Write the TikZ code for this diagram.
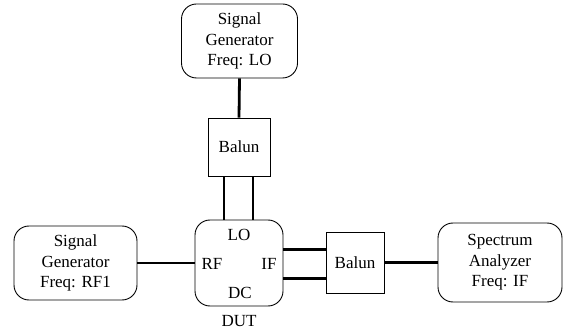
\documentclass[tikz,border=0pt]{standalone}
\usepackage{fontspec}
\setmainfont{Liberation Serif}
\begin{document}
\begin{tikzpicture}[x=1pt,y=-1pt,
  every node/.style={font=\fontsize{17}{20.5}\selectfont},
  rbox/.style={draw, line width=0.9pt, rounded corners=15pt, inner sep=0pt},
  sbox/.style={draw, line width=0.9pt, inner sep=0pt},
  wire/.style={line width=2.8pt}]
\useasboundingbox (0,0) rectangle (565,331);
% instruments
\node[rbox, minimum width=116pt, minimum height=74pt, align=center] (sglo) at (239.5,41) {Signal\\Generator\\Freq: LO};
\node[rbox, minimum width=123pt, minimum height=74pt, align=center] (sgrf) at (75.5,263) {Signal\\Generator\\Freq: RF1};
\node[rbox, minimum width=124pt, minimum height=79pt, align=center] (sa) at (500,262.5) {Spectrum\\Analyzer\\Freq: IF};
% baluns
\node[sbox, minimum width=62pt, minimum height=58pt] (b1) at (239,147) {Balun};
\node[sbox, minimum width=58pt, minimum height=61pt] (b2) at (355,262.5) {Balun};
% device under test
\node[rbox, minimum width=88pt, minimum height=86pt] (dut) at (239,263) {};
\node at (239,235) {LO};
\node at (212,264) {RF};
\node at (269,264) {IF};
\node at (240,293) {DC};
\node at (239,321) {DUT};
% connections
\draw[wire] (sglo.south) -- (b1.north);
\draw[wire] ([xshift=-15pt]b1.south) -- ([xshift=-15pt]b1.south |- dut.north);
\draw[wire] ([xshift=14pt]b1.south) -- ([xshift=14pt]b1.south |- dut.north);
\draw[wire] (sgrf.east) -- (dut.west);
\draw[wire] ([yshift=-15.5pt]dut.east) -- ([yshift=-15.5pt]dut.east -| b2.west);
\draw[wire] ([yshift=13.5pt]dut.east) -- ([yshift=13.5pt]dut.east -| b2.west);
\draw[wire] (b2.east) -- (b2.east -| sa.west);
\end{tikzpicture}
\end{document}
